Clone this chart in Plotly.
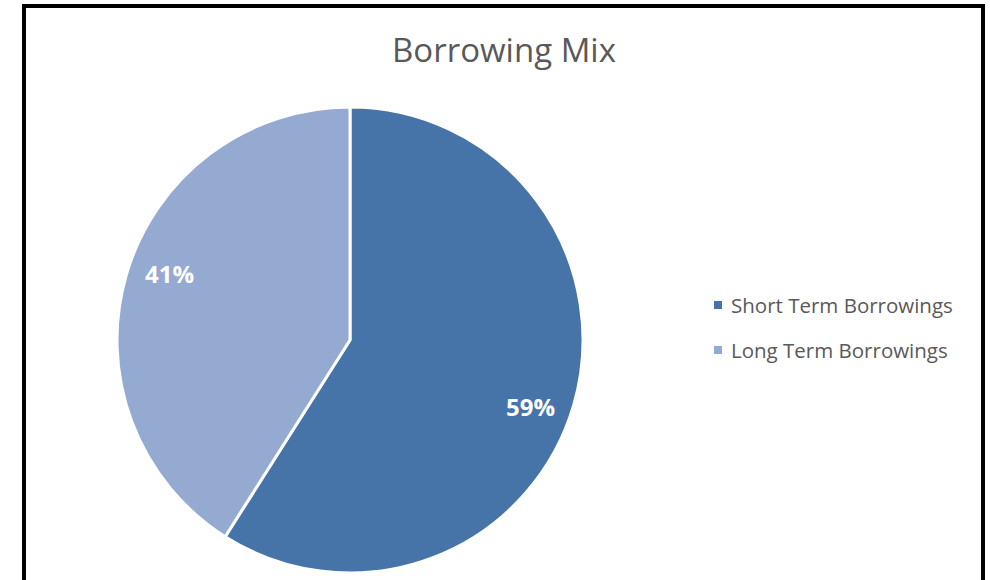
import math
import plotly.graph_objects as go

categories = ["Short Term Borrowings", "Long Term Borrowings"]
shares = [59, 41]
colors = ["#4674A8", "#95AAD1"]
title_text = "Borrowing Mix"

W, H = 990, 580
CX, CY, R = 350, 340, 233

fig = go.Figure()
fig.add_trace(go.Pie(
    labels=categories,
    values=shares,
    sort=False,
    direction="clockwise",
    rotation=0,
    marker=dict(colors=colors, line=dict(color="white", width=3)),
    textinfo="none",
    domain=dict(x=[(CX - R) / W, (CX + R) / W], y=[(H - CY - R) / H, (H - CY + R) / H]),
    showlegend=False,
    hoverinfo="label+percent",
))

annotations = []
# data labels placed like the reference (~0.82 of radius, slightly clockwise of each bisector)
total = sum(shares)
cum = 0
for v in shares:
    mid = (cum + v / 2) / total * 2 * math.pi + math.radians(4)
    cum += v
    px = CX + 0.825 * R * math.sin(mid)
    py = CY - 0.825 * R * math.cos(mid)
    annotations.append(dict(text=f"{round(v / total * 100)}%", xref="paper", yref="paper",
                            x=px / W, y=(H - py) / H, xanchor="center", yanchor="middle",
                            showarrow=False,
                            font=dict(family="Open Sans", size=24, color="white", weight="bold")))

# manual legend (items spaced as in reference)
leg_y = [305, 350]
shapes = [dict(type="rect", xref="paper", yref="paper",
               x0=24 / W, x1=983 / W, y0=-0.05, y1=(H - 6) / H,
               line=dict(color="black", width=4), fillcolor="rgba(0,0,0,0)")]
for cat, col, yy in zip(categories, colors, leg_y):
    shapes.append(dict(type="rect", xref="paper", yref="paper",
                       x0=714 / W, x1=722 / W, y0=(H - yy - 4) / H, y1=(H - yy + 4) / H,
                       line=dict(width=0), fillcolor=col))
    annotations.append(dict(text=cat, xref="paper", yref="paper", x=729 / W, y=(H - yy) / H,
                            xanchor="left", yanchor="middle", showarrow=False,
                            font=dict(family="Open Sans", size=20.5, color="#595959")))

fig.update_layout(
    width=W, height=H,
    margin=dict(l=0, r=0, t=0, b=0),
    paper_bgcolor="white",
    title=dict(text=title_text, x=504 / W, xanchor="center", y=(H - 50) / H, yanchor="middle",
               font=dict(family="Open Sans", size=33, color="#595959")),
    shapes=shapes,
    annotations=annotations,
)

fig.write_html("out.html")
